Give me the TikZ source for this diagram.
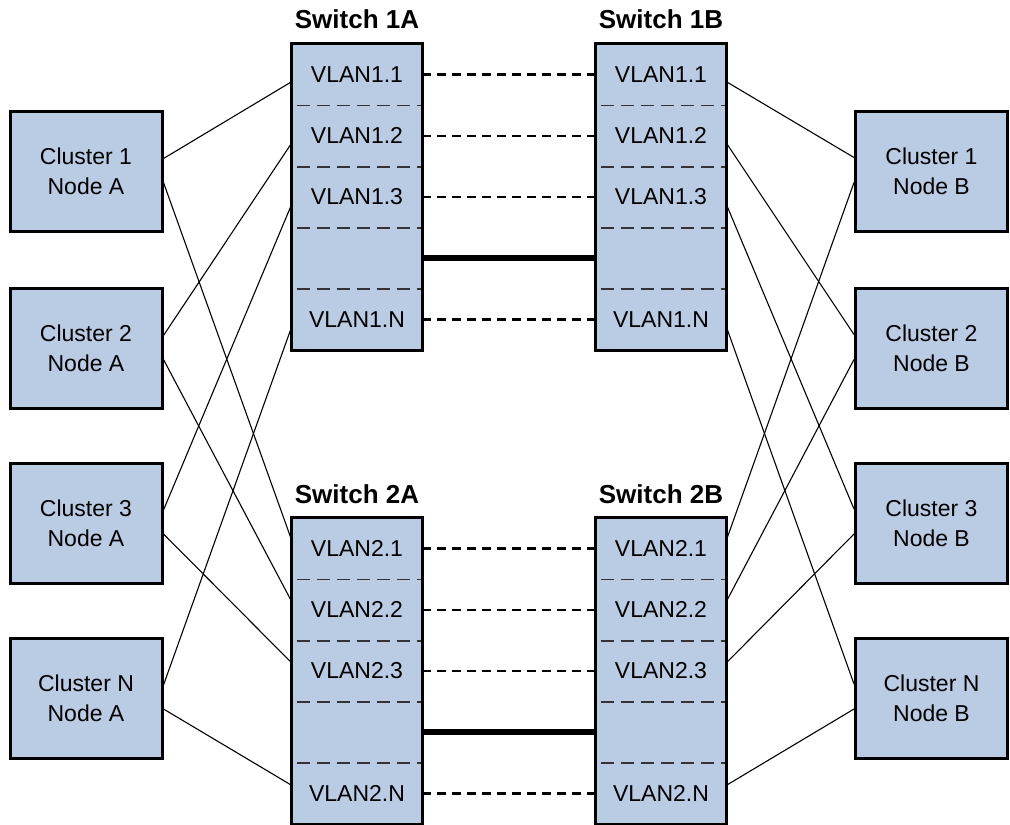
\documentclass[tikz,border=0pt]{standalone}
\usepackage{fontspec}
\setmainfont{Liberation Sans}
\usetikzlibrary{calc,fit}
\definecolor{boxblue}{RGB}{185,204,228}
\definecolor{divgray}{RGB}{50,50,55}
\tikzset{
  sec/.style={rectangle, fill=boxblue, minimum width=130pt, minimum height=61.2pt, inner sep=0pt,
    font=\fontsize{23}{27}\selectfont},
  swbox/.style={rectangle, draw=black, line width=3pt, inner sep=0pt},
  clbox/.style={rectangle, draw=black, fill=boxblue, line width=3pt, minimum width=152pt,
    minimum height=120pt, inner sep=0pt, align=center, font=\fontsize{23}{30}\selectfont},
  swtitle/.style={font=\bfseries\fontsize{26}{30}\selectfont, inner sep=0pt},
  divider/.style={draw=divgray, line width=1.8pt, dash pattern=on 13pt off 7pt, dash phase=-5pt},
  vlink/.style={draw=black, line width=2.4pt, dash pattern=on 9pt off 6pt},
  trunk/.style={draw=black, line width=6pt},
  wire/.style={draw=black, line width=1.1pt},
}
\begin{document}
\begin{tikzpicture}[x=1pt,y=-1pt]
\useasboundingbox (0,0) rectangle (1010,825);
% ---------- switches ----------
\foreach \sw/\cx/\top/\n in {1a/357/44/1, 1b/661/44/1, 2a/357/518/2, 2b/661/518/2}{
  \node[sec] (s\sw1) at (\cx,\top+30.6) {VLAN\n.1};
  \node[sec] (s\sw2) at (\cx,\top+91.8) {VLAN\n.2};
  \node[sec] (s\sw3) at (\cx,\top+153) {VLAN\n.3};
  \node[sec] (s\sw4) at (\cx,\top+214.2) {};
  \node[sec] (s\sw5) at (\cx,\top+275.4) {VLAN\n.N};
  \draw[divider] (s\sw1.south west) -- (s\sw1.south east);
  \draw[divider] (s\sw2.south west) -- (s\sw2.south east);
  \draw[divider] (s\sw3.south west) -- (s\sw3.south east);
  \draw[divider] (s\sw4.south west) -- (s\sw4.south east);
  \node[swbox, fit=(s\sw1)(s\sw5)] (sw\sw) {};
}
\node[swtitle] (t1a) at (357,19) {Switch 1A};
\node[swtitle] (t1b) at (661,19) {Switch 1B};
\node[swtitle] (t2a) at (357,494) {Switch 2A};
\node[swtitle] (t2b) at (661,494) {Switch 2B};
% ---------- cluster nodes ----------
\node[clbox] (c1a) at (86,171.5) {Cluster 1\\Node A};
\node[clbox] (c2a) at (86,348.5) {Cluster 2\\Node A};
\node[clbox] (c3a) at (86,523) {Cluster 3\\Node A};
\node[clbox] (cna) at (86,698) {Cluster N\\Node A};
\node[clbox] (c1b) at (931.5,171.5) {Cluster 1\\Node B};
\node[clbox] (c2b) at (931.5,348.5) {Cluster 2\\Node B};
\node[clbox] (c3b) at (931.5,523) {Cluster 3\\Node B};
\node[clbox] (cnb) at (931.5,698) {Cluster N\\Node B};
% ---------- inter-switch links ----------
\foreach \k in {1,2,3,5}{
  \draw[vlink] (s1a\k.east) -- (s1b\k.west);
  \draw[vlink] (s2a\k.east) -- (s2b\k.west);
}
\draw[trunk] (s1a4.east) -- (s1b4.west);
\draw[trunk] (s2a4.east) -- (s2b4.west);
% ---------- cluster wiring, side A ----------
\foreach \c/\k in {c1a/1, c2a/2, c3a/3, cna/5}{
  \draw[wire] ($(\c.east)+(0,-13)$) -- ($(s1a\k.west)+(0,7)$);
  \draw[wire] ($(\c.east)+(0,11)$) -- ($(s2a\k.west)+(0,-8)$);
}
% ---------- cluster wiring, side B ----------
\foreach \c/\k in {c1b/1, c2b/2, c3b/3, cnb/5}{
  \draw[wire] ($(\c.west)+(0,-14)$) -- ($(s1b\k.east)+(0,7)$);
  \draw[wire] ($(\c.west)+(0,11)$) -- ($(s2b\k.east)+(0,-8)$);
}
\end{tikzpicture}
\end{document}
